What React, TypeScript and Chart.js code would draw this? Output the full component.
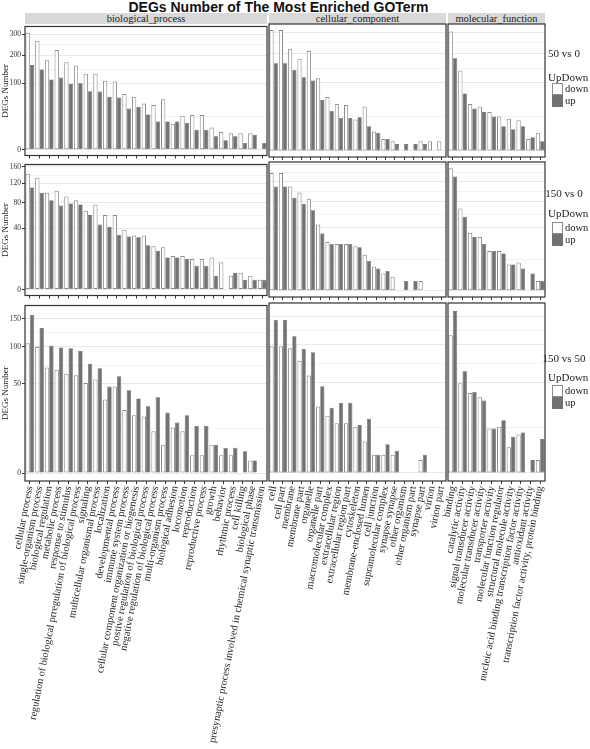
import React, { useEffect, useRef } from "react";
import { Chart, registerables } from "chart.js";

Chart.register(...registerables);

// ---------- categories ----------
const bpTerms = [
  "cellular process",
  "single-organism process",
  "biological regulation",
  "metabolic process",
  "response to stimulus",
  "regulation of biological prregulation of biological process",
  "signaling",
  "multicellular organismal process",
  "localization",
  "developmental process",
  "immune system process",
  "cellular component organization or biogenesis",
  "postive regulation of biological process",
  "negative regulation of biological process",
  "multi-organism process",
  "biological adhesion",
  "locomotion",
  "reproduction",
  "reproductive process",
  "growth",
  "behavior",
  "rhythmic process",
  "cell killing",
  "biological phase",
  "presynaptic process involved in chemical synaptic transmission",
];
const ccTerms = [
  "cell",
  "cell part",
  "membrane",
  "membrane part",
  "organelle",
  "organelle part",
  "macromolecular complex",
  "extracellular region",
  "extracellular region part",
  "cytoskeleton",
  "membrane-enclosed lumen",
  "cell junction",
  "supramolecular complex",
  "synapse synapse",
  "other organism",
  "other organism part",
  "synapse part",
  "virion",
  "virion part",
];
const mfTerms = [
  "binding",
  "catalytic activity",
  "signal transducer activity",
  "molecular transducer activity",
  "transporter activity",
  "molecular function regulator",
  "structural molecule activity",
  "nucleic acid binding transcription factor activity",
  "antioxidant activity",
  "transcription factor activity, protein binding",
];

// ---------- values: 50 vs 0 ----------
const bp50v0Down = [308, 267, 180, 224, 172, 160, 130, 130, 107, 105, 70, 63, 48, 45, 57, 15, 26, 27, 27, 11, 7, 6, 6, 6, 0];
const bp50v0Up = [161, 145, 111, 117, 97, 99, 77, 76, 63, 61, 38, 41, 28, 18, 18, 18, 16, 9, 9, 4, 2, 4, 1, 5, 1];
const cc50v0Down = [310, 310, 222, 180, 212, 112, 62, 47, 45, 21, 42, 8, 3, 2, 0, 0, 2, 2, 2];
const cc50v0Up = [163, 163, 140, 115, 105, 55, 34, 23, 23, 24, 13, 7, 3, 1, 1, 1, 1, 0, 0];
const mf50v0Down = [302, 137, 47, 42, 32, 25, 22, 20, 3, 7];
const mf50v0Up = [182, 70, 38, 32, 25, 13, 10, 13, 4, 2];

// ---------- values: 150 vs 0 ----------
const bp150v0Down = [143, 133, 100, 104, 92, 85, 66, 77, 59, 59, 38, 31, 31, 20, 19, 12, 12, 10, 10, 11, 8, 2, 3, 2, 1];
const bp150v0Up = [111, 100, 85, 75, 79, 77, 59, 45, 42, 32, 30, 29, 21, 16, 11, 11, 10, 6, 6, 2, 0, 3, 1, 1, 1];
const cc150v0Down = [139, 139, 109, 97, 85, 44, 24, 22, 22, 20, 13, 6, 3, 2, 0, 0, 1, 0, 0];
const cc150v0Up = [109, 109, 87, 76, 65, 33, 22, 22, 22, 19, 9, 5, 4, 0, 1, 1, 0, 0, 0];
const mf150v0Down = [151, 68, 34, 29, 16, 16, 7, 8, 0, 1];
const mf150v0Up = [131, 55, 29, 22, 16, 14, 7, 5, 3, 1];

// ---------- values: 150 vs 50 ----------
const bp150v50Down = [106, 100, 70, 67, 62, 60, 51, 55, 34, 47, 25, 21, 20, 11, 5, 13, 11, 2, 2, 5, 2, 2, 0, 1, 0];
const bp150v50Up = [157, 132, 102, 99, 98, 94, 75, 69, 47, 59, 43, 35, 28, 36, 23, 16, 21, 14, 14, 5, 4, 4, 3, 1, 0];
const cc150v50Down = [98, 98, 95, 77, 58, 27, 20, 15, 15, 13, 6, 2, 2, 2, 0, 0, 1, 0, 0];
const cc150v50Up = [143, 143, 114, 94, 89, 46, 26, 30, 30, 14, 18, 2, 5, 3, 0, 0, 2, 0, 0];
const mf150v50Down = [116, 49, 39, 35, 12, 13, 4, 9, 0, 1];
const mf150v50Up = [160, 63, 40, 32, 12, 17, 8, 10, 1, 7];

// ---------- tick labels / text ----------
const yTicks50v0 = [0, 100, 200, 300];
const yTicks150v0 = [0, 40, 80, 120, 160];
const yTicks150v50 = [0, 50, 100, 150];
const rowLabels = ["50 vs 0", "150 vs 0", "150 vs 50"];
const facetLabels = ["biological_process", "cellular_component", "molecular_function"];
const seriesNames = ["down", "up"];
const legendTitle = "UpDown";
const yTitle = "DEGs Number";
const chartTitle = "DEGs Number of The Most Enriched GOTerm";

// ---------- layout ----------
const COLS = [
  { x0: 25, x1: 267 },
  { x0: 269, x1: 446 },
  { x0: 448, x1: 545 },
];
const ROWS = [
  { y0: 24, y1: 157, lab: 53, leg: 77, key: 83 },
  { y0: 162, y1: 297, lab: 193, leg: 213, key: 222 },
  { y0: 303, y1: 481, lab: 358, leg: 377, key: 385 },
];
const SERIF = "'Liberation Serif', 'DejaVu Serif', serif";
const SANS = "'Liberation Sans', Arial, sans-serif";
const UP_FILL = "#727272";
const DOWN_BORDER = "#8c8c8c";
const LABEL_ROTATION = 79;

const termsByCol = [bpTerms, ccTerms, mfTerms];
const rowsData = [
  { ticks: yTicks50v0, panels: [[bp50v0Down, bp50v0Up], [cc50v0Down, cc50v0Up], [mf50v0Down, mf50v0Up]] },
  { ticks: yTicks150v0, panels: [[bp150v0Down, bp150v0Up], [cc150v0Down, cc150v0Up], [mf150v0Down, mf150v0Up]] },
  { ticks: yTicks150v50, panels: [[bp150v50Down, bp150v50Up], [cc150v50Down, cc150v50Up], [mf150v50Down, mf150v50Up]] },
];

const sq = (v: number) => (v > 0 ? Math.sqrt(v) : null);

function buildTicks(vals: number[]) {
  const out: any[] = [];
  for (let i = 0; i < vals.length; i++) {
    const s = Math.sqrt(vals[i]);
    out.push({ value: s, minor: false });
    if (i < vals.length - 1) {
      out.push({ value: (s + Math.sqrt(vals[i + 1])) / 2, minor: true });
    }
  }
  return out;
}

const panelBorder = {
  id: "panelBorder",
  afterDraw(chart: any) {
    const { ctx, chartArea: a } = chart;
    ctx.save();
    ctx.strokeStyle = "#333";
    ctx.lineWidth = 1.2;
    ctx.strokeRect(a.left, a.top, a.right - a.left, a.bottom - a.top);
    ctx.restore();
  },
};

type PanelProps = {
  col: number;
  row: number;
  labels: string[];
  down: number[];
  up: number[];
  ticks: number[];
  yMin: number;
  yMax: number;
};

const T = 3;
const R = 10;

function Panel(p: PanelProps) {
  const ref = useRef<HTMLCanvasElement>(null);
  const { x0, x1 } = COLS[p.col];
  const { y0, y1 } = ROWS[p.row];
  const showY = p.col === 0;
  const showX = p.row === 2;
  const left = showY ? 0 : x0 - 12;
  const L = x0 - left;
  const H = showX ? 264 : 4;
  const width = L + (x1 - x0) + R;
  const top = y0 - T;
  const height = T + (y1 - y0) + H;

  useEffect(() => {
    if (!ref.current) return;
    const chart = new Chart(ref.current, {
      type: "bar",
      data: {
        labels: p.labels,
        datasets: [
          {
            label: seriesNames[0],
            data: p.down.map(sq),
            backgroundColor: "#ffffff",
            borderColor: DOWN_BORDER,
            borderWidth: 1,
            borderSkipped: false,
            categoryPercentage: 0.9,
            barPercentage: 1,
          },
          {
            label: seriesNames[1],
            data: p.up.map(sq),
            backgroundColor: UP_FILL,
            borderColor: "#5e5e5e",
            borderWidth: 0.6,
            borderSkipped: false,
            categoryPercentage: 0.9,
            barPercentage: 1,
          },
        ],
      },
      options: {
        responsive: false,
        animation: false,
        devicePixelRatio: 1,
        layout: { padding: { top: T, right: R, left: 0, bottom: 0 } },
        plugins: {
          legend: { display: false },
          tooltip: { enabled: false },
          title: { display: false },
        },
        scales: {
          x: {
            type: "category",
            offset: true,
            grid: {
              display: true,
              drawOnChartArea: false,
              drawTicks: true,
              tickLength: 3,
              tickColor: "#333",
              color: "#333",
              offset: false,
            },
            border: { display: false },
            ticks: {
              display: showX,
              autoSkip: false,
              minRotation: LABEL_ROTATION,
              maxRotation: LABEL_ROTATION,
              padding: 1,
              color: "#2a2a2a",
              font: { family: SERIF, size: 10.3 },
            },
            afterFit: (s: any) => {
              s.height = H;
            },
          },
          y: {
            type: "linear",
            min: p.yMin,
            max: p.yMax,
            grid: {
              color: (ctx: any) => (ctx.tick && ctx.tick.minor ? "#f3f3f3" : "#e9e9e9"),
              drawTicks: showY,
              tickLength: 3,
              tickColor: (ctx: any) => (ctx.tick && ctx.tick.minor ? "rgba(0,0,0,0)" : "#333"),
            },
            border: { display: false },
            ticks: {
              display: showY,
              autoSkip: false,
              padding: 1,
              color: "#333",
              font: { family: SERIF, size: 7.5 },
              callback: (value: any, index: number, ticks: any[]) => {
                const t = ticks[index];
                if (t && t.minor) return "";
                return String(Math.round(Number(value) * Number(value)));
              },
            },
            title: {
              display: showY,
              text: yTitle,
              padding: 0,
              color: "#222",
              font: { family: SERIF, size: 9 },
            },
            afterBuildTicks: (s: any) => {
              s.ticks = buildTicks(p.ticks);
            },
            afterFit: (s: any) => {
              s.width = L;
            },
          },
        },
      } as any,
      plugins: [panelBorder],
    });
    return () => chart.destroy();
  }, []);

  return (
    <canvas
      ref={ref}
      width={width}
      height={height}
      style={{ position: "absolute", left, top, width, height }}
    />
  );
}

export default function App() {
  const panels: any[] = [];
  rowsData.forEach((rd, r) => {
    const all: number[] = [];
    rd.panels.forEach(([d, u]) => all.push(...d, ...u));
    const sMax = Math.sqrt(Math.max(...all));
    const yMin = -0.05 * sMax;
    const yMax = 1.05 * sMax;
    rd.panels.forEach(([d, u], c) => {
      panels.push(
        <Panel
          key={`${r}-${c}`}
          col={c}
          row={r}
          labels={termsByCol[c]}
          down={d}
          up={u}
          ticks={rd.ticks}
          yMin={yMin}
          yMax={yMax}
        />
      );
    });
  });

  return (
    <div
      style={{
        position: "absolute",
        left: 0,
        top: 0,
        width: 590,
        height: 749,
        background: "#fff",
        overflow: "hidden",
        fontFamily: SERIF,
        color: "#222",
      }}
    >
      <div
        style={{
          position: "absolute",
          left: 0,
          top: -1,
          width: 557,
          textAlign: "center",
          fontFamily: SANS,
          fontWeight: "bold",
          fontSize: 14,
          lineHeight: "16px",
          whiteSpace: "nowrap",
          color: "#111",
        }}
      >
        {chartTitle}
      </div>
      {COLS.map((c, i) => (
        <div
          key={`strip-${i}`}
          style={{
            position: "absolute",
            left: c.x0,
            top: 13,
            width: c.x1 - c.x0,
            height: 11,
            background: "#d9d9d9",
            textAlign: "center",
            fontSize: 10.5,
            lineHeight: "11px",
            color: "#1a1a1a",
            whiteSpace: "nowrap",
          }}
        >
          {facetLabels[i]}
        </div>
      ))}
      {panels}
      {ROWS.map((rw, i) => (
        <React.Fragment key={`leg-${i}`}>
          <div
            style={{
              position: "absolute",
              left: 534,
              width: 60,
              top: rw.lab - 7,
              textAlign: "center",
              fontSize: 11,
              lineHeight: "14px",
              whiteSpace: "nowrap",
            }}
          >
            {rowLabels[i]}
          </div>
          <div
            style={{
              position: "absolute",
              left: 548,
              top: rw.leg - 7,
              fontSize: 11,
              lineHeight: "14px",
              whiteSpace: "nowrap",
            }}
          >
            {legendTitle}
          </div>
          <div
            style={{
              position: "absolute",
              left: 552,
              top: rw.key,
              width: 11,
              height: 12,
              boxSizing: "border-box",
              background: "#fff",
              border: `1px solid ${DOWN_BORDER}`,
            }}
          />
          <div
            style={{
              position: "absolute",
              left: 552,
              top: rw.key + 12,
              width: 11,
              height: 12,
              background: UP_FILL,
            }}
          />
          <div
            style={{
              position: "absolute",
              left: 565,
              top: rw.key - 1,
              fontSize: 10.5,
              lineHeight: "14px",
              whiteSpace: "nowrap",
            }}
          >
            {seriesNames[0]}
          </div>
          <div
            style={{
              position: "absolute",
              left: 565,
              top: rw.key + 11,
              fontSize: 10.5,
              lineHeight: "14px",
              whiteSpace: "nowrap",
            }}
          >
            {seriesNames[1]}
          </div>
        </React.Fragment>
      ))}
    </div>
  );
}
